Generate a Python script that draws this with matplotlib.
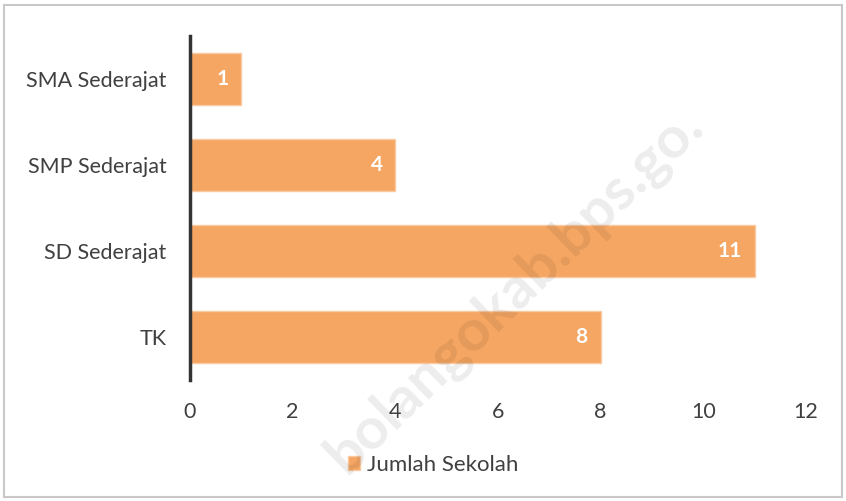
import matplotlib
matplotlib.use("Agg")
import matplotlib.pyplot as plt
from matplotlib.patches import Rectangle

categories = ["TK", "SD Sederajat", "SMP Sederajat", "SMA Sederajat"]
values = [8, 11, 4, 1]
series_name = "Jumlah Sekolah"
xticks = [0, 2, 4, 6, 8, 10, 12]

plt.rcParams['font.family'] = ['Lato', 'DejaVu Sans']

fig = plt.figure(figsize=(8.46, 5.01), dpi=100)
ax = fig.add_axes([190/846, 1-380/501, (806-190)/846, (380-36)/501])

bar_color = "#F5A662"
bars = ax.barh(range(len(categories)), values, height=0.6, color=bar_color,
               edgecolor="#F9C9A2", linewidth=1, label=series_name, zorder=2)
for i, v in enumerate(values):
    ax.text(v - 0.25, i, str(v), ha="right", va="center", color="white",
            fontsize=15, fontweight="bold", zorder=3)

ax.set_yticks(range(len(categories)))
ax.set_yticklabels(categories, fontsize=15.5, color="#404040")
ax.set_xticks(xticks)
ax.set_xticklabels([str(t) for t in xticks], fontsize=15.5, color="#404040")
ax.set_xlim(0, 12)
ax.set_ylim(-0.5, 3.5)
ax.tick_params(axis="both", length=0)
ax.tick_params(axis="y", pad=17)
ax.tick_params(axis="x", pad=16)
for s in ["top", "right", "bottom"]:
    ax.spines[s].set_visible(False)
ax.spines["left"].set_color("#333333")
ax.spines["left"].set_linewidth(2.5)
ax.spines["left"].set_zorder(4)

leg = fig.legend(handles=[bars], labels=[series_name], loc="center",
                 bbox_to_anchor=(433/846, 1-465/501), frameon=False,
                 fontsize=16, handlelength=0.55, handleheight=0.55,
                 handletextpad=0.3, labelcolor="#404040")

# watermark
fig.text(515/846, 1-290/501, "bolangokab.bps.go.", rotation=44, fontsize=42,
         fontweight="bold", color="#000000", alpha=0.075,
         ha="center", va="center", transform=fig.transFigure, zorder=10)

# border
fig.patches.append(Rectangle((4/846, 4/501), 838/846, 492/501, transform=fig.transFigure,
                             fill=False, edgecolor="#C8C8C8", linewidth=1.5))

fig.savefig("out.png", dpi=100, facecolor="white")
